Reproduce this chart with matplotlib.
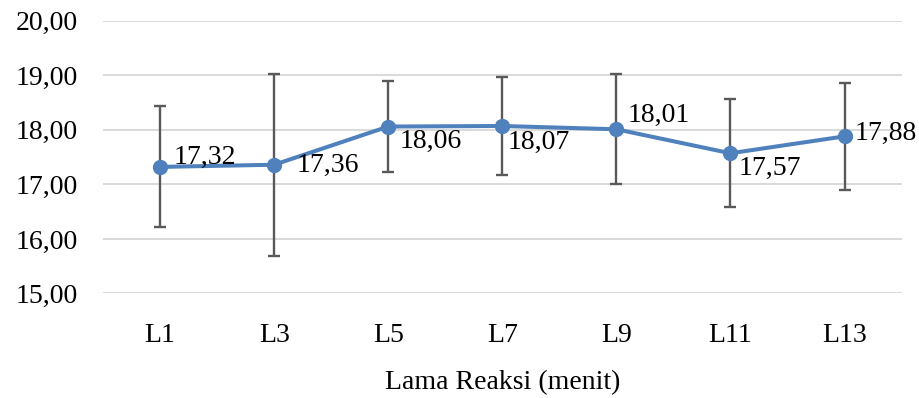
import matplotlib

matplotlib.use("Agg")
import matplotlib.pyplot as plt
import numpy as np

# --------- Data ---------
categories = ["L1", "L3", "L5", "L7", "L9", "L11", "L13"]
means = [17.32, 17.36, 18.06, 18.07, 18.01, 17.57, 17.88]
errors = [1.11, 1.67, 0.83, 0.90, 1.01, 0.99, 0.98]
y_ticks = [15, 16, 17, 18, 19, 20]

# label offsets (pixels) so the numbers don't sit on the error bars
label_offsets = [(14, 10), (22, -1), (11, -15), (5, -16), (11, 14), (8, -15), (10, 3)]

plt.rcParams["font.family"] = ["Liberation Serif", "DejaVu Serif"]
FS = 20

fig = plt.figure(figsize=(9.2, 3.98), dpi=100)
ax = fig.add_axes([0.112, 0.2626, 0.868, 0.6854])

x = np.arange(len(categories))
ax.errorbar(x, means, yerr=errors, fmt="none", ecolor="#595959",
            elinewidth=1.7, capsize=4, capthick=1.7, zorder=2)
ax.plot(x, means, color="#4F81BD", linewidth=2.9, marker="o",
        markersize=10, zorder=3)

for xi, m, (dx, dy) in zip(x, means, label_offsets):
    ax.annotate(f"{m:.2f}".replace(".", ","), (xi, m), xytext=(dx, dy),
                textcoords="offset pixels", ha="left", va="center",
                fontsize=FS, color="black", zorder=4)

ax.set_xlim(-0.5, len(categories) - 0.5)
ax.set_ylim(15, 20)
ax.set_yticks(y_ticks)
ax.set_yticklabels([f"{v:.2f}".replace(".", ",") for v in y_ticks], fontsize=FS)
ax.set_xticks(x)
ax.set_xticklabels(categories, fontsize=FS)
ax.tick_params(length=0)
ax.tick_params(axis="y", pad=18)
ax.tick_params(axis="x", pad=21)
ax.grid(axis="y", color="#D9D9D9", linewidth=1.4)
ax.set_axisbelow(True)
for spine in ax.spines.values():
    spine.set_visible(False)

ax.set_xlabel("Lama Reaksi (menit)", fontsize=FS, labelpad=16)

fig.savefig("out.png", dpi=100)
plt.close(fig)
